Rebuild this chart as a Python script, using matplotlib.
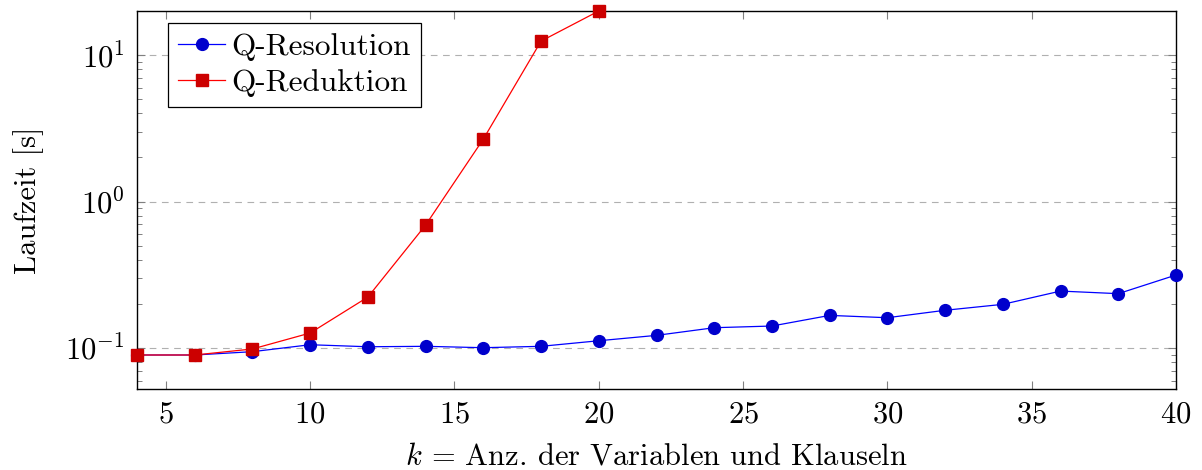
import matplotlib
matplotlib.use("Agg")
import matplotlib.pyplot as plt
from matplotlib.ticker import LogLocator, FixedLocator

plt.rcParams['font.family'] = 'serif'
plt.rcParams['font.serif'] = ['cmr10']
plt.rcParams['mathtext.fontset'] = 'cm'
plt.rcParams['axes.formatter.use_mathtext'] = True

FS = 22

k_res = [4, 6, 8, 10, 12, 14, 16, 18, 20, 22, 24, 26, 28, 30, 32, 34, 36, 38, 40]
t_res = [0.0896, 0.0896, 0.0944, 0.1053, 0.102, 0.1027, 0.1005, 0.1027, 0.1121,
         0.122, 0.1376, 0.1413, 0.167, 0.161, 0.181, 0.1987, 0.2448, 0.235, 0.315]

k_red = [4, 6, 8, 10, 12, 14, 16, 18, 20]
t_red = [0.0896, 0.0896, 0.0985, 0.1266, 0.2228, 0.691, 2.67, 12.46, 20.0]

fig = plt.figure(figsize=(12.02, 4.70), dpi=100)
ax = fig.add_axes([137 / 1202, 1 - 389 / 470, 1039 / 1202, 378 / 470])

ax.plot(k_res, t_res, color='blue', lw=0.9, marker='o', ms=8.5,
        mfc=(0, 0, 0.8), mec=(0, 0, 0.8), label='Q-Resolution', clip_on=False, zorder=3)
ax.plot(k_red, t_red, color='red', lw=0.9, marker='s', ms=8,
        mfc=(0.8, 0, 0), mec=(0.8, 0, 0), label='Q-Reduktion', clip_on=False, zorder=4)

ax.set_yscale('log')
ax.set_xlim(4, 40)
ax.set_ylim(0.0525, 20)
ax.xaxis.set_major_locator(FixedLocator([5, 10, 15, 20, 25, 30, 35, 40]))
ax.yaxis.set_major_locator(LogLocator(base=10))
ax.yaxis.set_minor_locator(LogLocator(base=10, subs=range(2, 10)))

ax.grid(True, axis='y', which='major', ls=(0, (6, 5)), color='#b0b0b0', lw=0.8)
ax.tick_params(which='both', direction='in', top=True, right=True,
               color='#808080', labelsize=FS, pad=9)
ax.tick_params(which='major', length=6, width=0.8)
ax.tick_params(which='minor', length=3.5, width=0.7)
for s in ax.spines.values():
    s.set_linewidth(1.0)

ax.set_xlabel('$k$ = Anz. der Variablen und Klauseln', fontsize=FS, labelpad=10)
ax.set_ylabel('Laufzeit [s]', fontsize=FS, labelpad=15)

leg = ax.legend(loc='upper left', fontsize=22.5, fancybox=False, framealpha=1,
                edgecolor='black', borderpad=0.33, borderaxespad=0,
                handlelength=1.5, handletextpad=0.2, labelspacing=0.25,
                bbox_to_anchor=(31 / 1039, 1 - 12 / 378))
leg.get_frame().set_linewidth(0.9)

fig.savefig('out.png', dpi=100)
